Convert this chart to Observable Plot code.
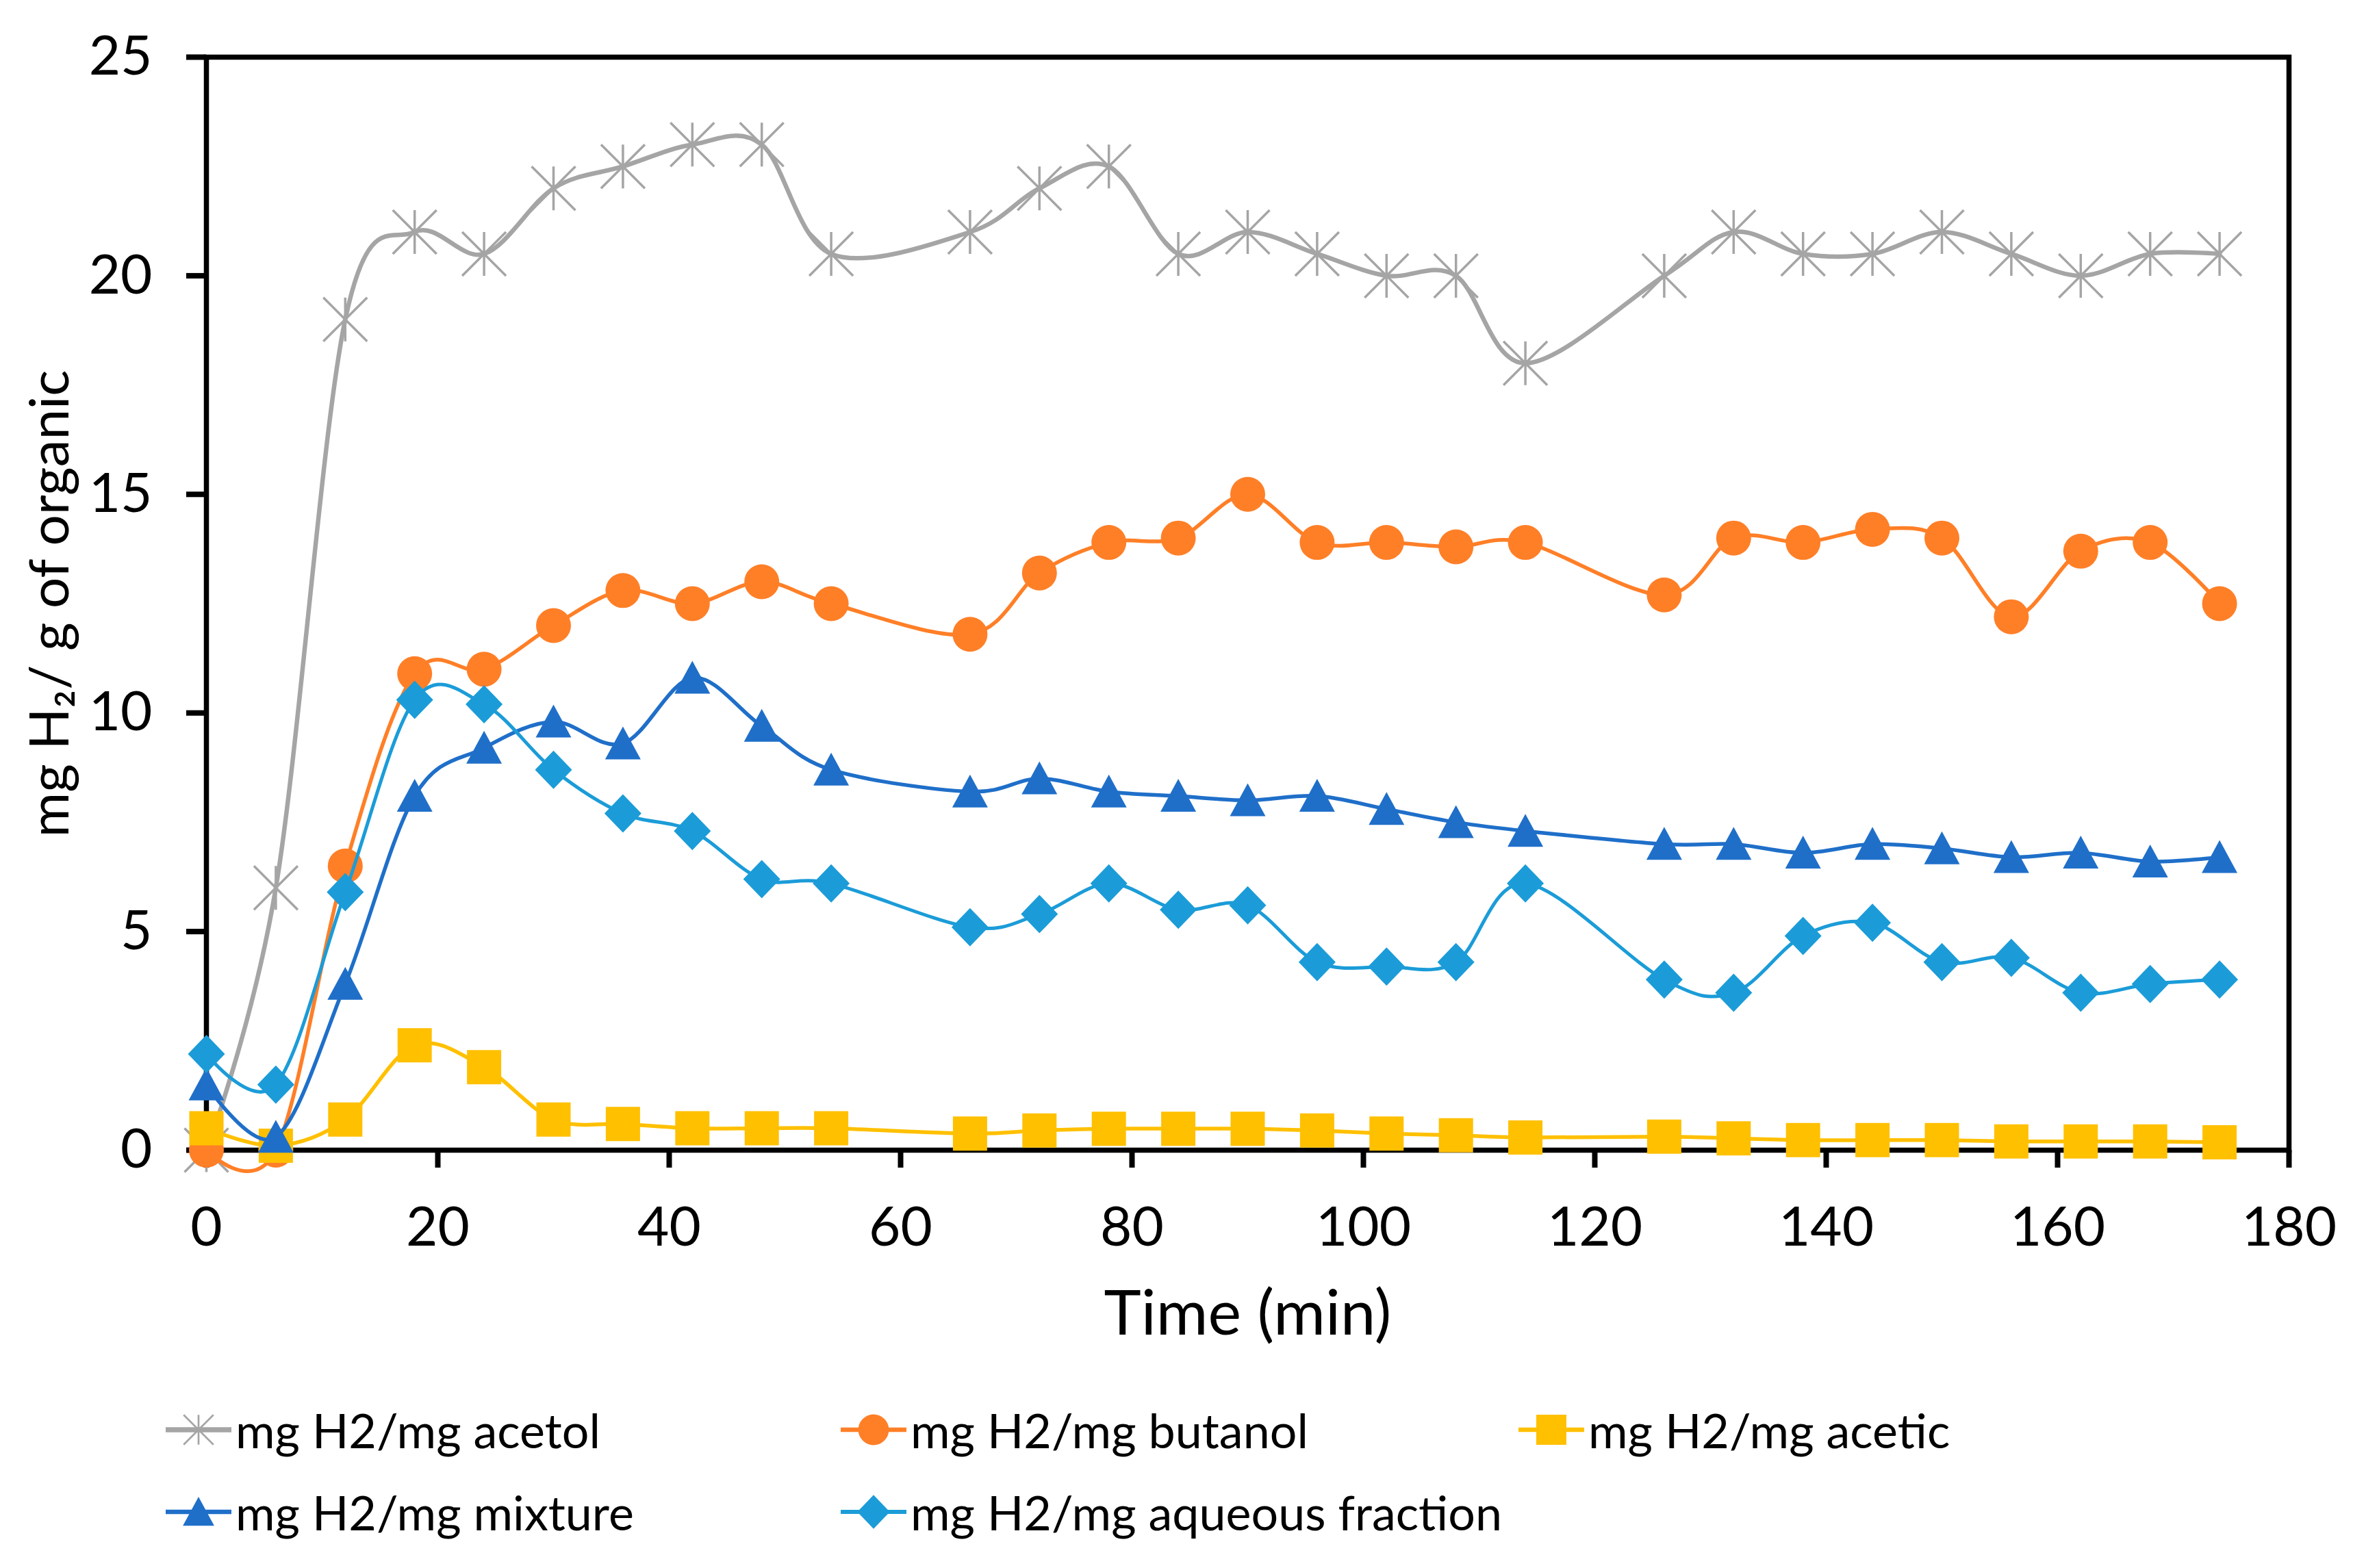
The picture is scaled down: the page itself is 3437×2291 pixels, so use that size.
<!DOCTYPE html>
<html>
<head>
<meta charset="utf-8">
<script src="https://cdn.jsdelivr.net/npm/d3@7"></script>
<script src="https://cdn.jsdelivr.net/npm/@observablehq/plot@0.6"></script>
<style>
  body { margin: 0; background: #fff; font-family: Lato, sans-serif; }
  #wrap { position: relative; width: 3437px; height: 2291px; background: #fff; }
  .leg { position: absolute; display: flex; align-items: center; height: 80px; }
  .leg span { font-size: 70px; line-height: 80px; color: #000; margin-left: 6px; white-space: nowrap; }
</style>
</head>
<body>
<div id="wrap"></div>
<script>
// ---- data ----
const time = [0, 6, 12, 18, 24, 30, 36, 42, 48, 54, 66, 72, 78, 84, 90, 96, 102, 108, 114, 126, 132, 138, 144, 150, 156, 162, 168, 174];
const acetol  = [0, 6.0, 19.0, 21.0, 20.5, 22.0, 22.5, 23.0, 23.0, 20.5, 21.0, 22.0, 22.5, 20.5, 21.0, 20.5, 20.0, 20.0, 18.0, 20.0, 21.0, 20.5, 20.5, 21.0, 20.5, 20.0, 20.5, 20.5];
const butanol = [0, 0, 6.5, 10.9, 11.0, 12.0, 12.8, 12.5, 13.0, 12.5, 11.8, 13.2, 13.9, 14.0, 15.0, 13.9, 13.9, 13.8, 13.9, 12.7, 14.0, 13.9, 14.2, 14.0, 12.2, 13.7, 13.9, 12.5];
const acetic  = [0.5, 0.1, 0.7, 2.4, 1.9, 0.7, 0.6, 0.5, 0.5, 0.5, 0.38, 0.45, 0.49, 0.49, 0.49, 0.45, 0.38, 0.34, 0.29, 0.31, 0.27, 0.23, 0.23, 0.23, 0.2, 0.2, 0.2, 0.18];
const mixture = [1.5, 0.3, 3.8, 8.1, 9.2, 9.8, 9.3, 10.8, 9.7, 8.7, 8.2, 8.5, 8.2, 8.1, 8.0, 8.1, 7.8, 7.5, 7.3, 7.0, 7.0, 6.8, 7.0, 6.9, 6.7, 6.8, 6.6, 6.7];
const aqueous = [2.2, 1.5, 5.9, 10.3, 10.2, 8.7, 7.7, 7.3, 6.2, 6.1, 5.1, 5.4, 6.1, 5.5, 5.6, 4.3, 4.2, 4.3, 6.1, 3.9, 3.6, 4.9, 5.2, 4.3, 4.4, 3.6, 3.8, 3.9];
const seriesNames = ["mg H2/mg acetol", "mg H2/mg butanol", "mg H2/mg acetic", "mg H2/mg mixture", "mg H2/mg aqueous fraction"];
const xTicks = [0, 20, 40, 60, 80, 100, 120, 140, 160, 180];
const yTicks = [0, 5, 10, 15, 20, 25];
const xTitle = "Time (min)";
const yTitle = "mg H\u2082/ g of organic";

// ---- styles ----
const colors = ["#A5A5A5", "#FF7F27", "#FFC000", "#1F6FC9", "#1B9CD8"];
const symAsterisk = {draw(c) { const w = 32, h = 32; c.moveTo(0, -h); c.lineTo(0, h); c.moveTo(-w, -h); c.lineTo(w, h); c.moveTo(-w, h); c.lineTo(w, -h); }};
const symCircle = {draw(c) { c.moveTo(25.5, 0); c.arc(0, 0, 25.5, 0, 2 * Math.PI); c.closePath(); }};
const symSquare = {draw(c) { c.rect(-25, -25, 50, 50); }};
const symTriangle = {draw(c) { c.moveTo(0, -25); c.lineTo(26, 23); c.lineTo(-26, 23); c.closePath(); }};
const symDiamond = {draw(c) { c.moveTo(0, -28); c.lineTo(27, 0); c.lineTo(0, 28); c.lineTo(-27, 0); c.closePath(); }};
const symbols = [symAsterisk, symCircle, symSquare, symTriangle, symDiamond];
const lineWidths = [6.5, 5.5, 5.5, 5.5, 5];

const values = [acetol, butanol, acetic, mixture, aqueous];
const tables = values.map((vals, i) => time.map((t, j) => ({time: t, value: vals[j], series: seriesNames[i]})));

const seriesMarks = [];
tables.forEach((rows, i) => {
  seriesMarks.push(Plot.line(rows, {x: "time", y: "value", stroke: colors[i], strokeWidth: lineWidths[i], curve: "cardinal"}));
  if (i === 0) {
    seriesMarks.push(Plot.dot(rows, {x: "time", y: "value", symbol: symbols[i], fill: "none", stroke: colors[i], strokeWidth: 3.5}));
  } else {
    seriesMarks.push(Plot.dot(rows, {x: "time", y: "value", symbol: symbols[i], fill: colors[i], stroke: "none"}));
  }
});

const fmt = d => String(d);
const chart = Plot.plot({
  width: 3437,
  height: 2000,
  marginLeft: 301,
  marginRight: 94,
  marginTop: 83,
  marginBottom: 320,
  x: {domain: [0, 180]},
  y: {domain: [0, 25]},
  style: {fontFamily: "Lato, sans-serif", color: "black", background: "white", overflow: "visible"},
  marks: [
    Plot.frame({stroke: "black", strokeWidth: 7.5}),
    Plot.axisY(yTicks, {tickSize: 29, tickPadding: 50, strokeWidth: 8, fontSize: 80, label: null, tickFormat: fmt}),
    Plot.axisX(xTicks, {tickSize: 26, tickPadding: 57, strokeWidth: 8, fontSize: 80, label: null, tickFormat: fmt}),
    Plot.text([xTitle], {frameAnchor: "bottom", lineAnchor: "middle", dy: 240, fontSize: 92, fill: "black"}),
    Plot.text([yTitle], {frameAnchor: "left", textAnchor: "middle", lineAnchor: "middle", dx: -227, rotate: -90, fontSize: 80, fill: "black"}),
    ...seriesMarks
  ]
});
const wrap = document.getElementById("wrap");
wrap.appendChild(chart);

// ---- legend ----
const colX = [242, 1228, 2218];
const rowY = [2089, 2209];
seriesNames.forEach((name, i) => {
  const row = Math.floor(i / 3), col = i % 3;
  const div = document.createElement("div");
  div.className = "leg";
  div.style.left = colX[col] + "px";
  div.style.top = (rowY[row] - 40) + "px";
  const svg = d3.create("svg").attr("width", 96).attr("height", 80);
  svg.append("line").attr("x1", 0).attr("x2", 96).attr("y1", 40).attr("y2", 40)
    .attr("stroke", colors[i]).attr("stroke-width", lineWidths[i] + 1);
  const p = svg.append("path").attr("transform", i === 0 ? "translate(48,40) scale(0.68)" : "translate(48,40) scale(0.88)")
    .attr("d", d3.symbol(symbols[i], 64)());
  if (i === 0) p.attr("fill", "none").attr("stroke", colors[i]).attr("stroke-width", 4);
  else p.attr("fill", colors[i]);
  div.appendChild(svg.node());
  const span = document.createElement("span");
  span.textContent = name;
  div.appendChild(span);
  wrap.appendChild(div);
});
</script>
</body>
</html>
